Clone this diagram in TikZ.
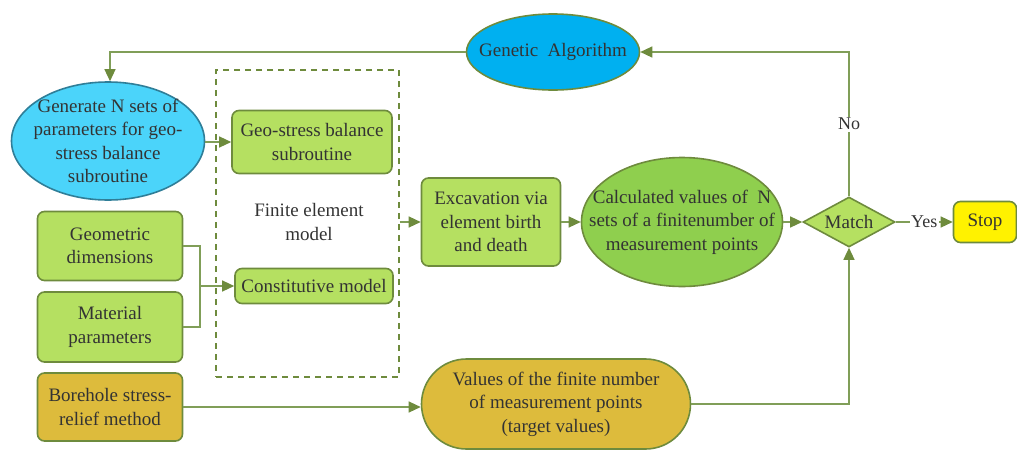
\documentclass[tikz,border=0pt]{standalone}
\usepackage{fontspec}
\setmainfont{Liberation Serif}
\newfontfamily\timesf{Liberation Serif}
\usetikzlibrary{arrows.meta,shapes.geometric}
\definecolor{edge}{HTML}{6E8B3D}
\definecolor{wire}{HTML}{809E58}
\definecolor{gfill}{HTML}{B5E061}
\definecolor{cfill}{HTML}{8FCF4E}
\definecolor{gold}{HTML}{DDBB3C}
\definecolor{gablue}{HTML}{00B0F0}
\definecolor{genblue}{HTML}{4BD4FA}
\definecolor{genedge}{HTML}{2F7E98}
\definecolor{txt}{HTML}{333333}
\tikzset{
  base/.style={draw=edge, line width=1.6pt, text=txt, align=center, inner sep=0pt,
    font=\timesf\fontsize{19}{23.5}\selectfont},
  gbox/.style={base, fill=gfill, rounded corners=7pt},
  goldbox/.style={base, fill=gold, rounded corners=7pt},
  ell/.style={base, ellipse, inner sep=-40pt},
  wireline/.style={draw=wire, line width=1.3pt},
  arr/.style={wireline, -{Triangle[length=12pt,width=11pt,color=edge]}},
  lbl/.style={fill=white, text=txt, inner sep=1.5pt, font=\timesf\fontsize{18}{22}\selectfont}
}
\begin{document}
\begin{tikzpicture}[x=1pt,y=-1pt]
\useasboundingbox (0,0) rectangle (1017,450);

\node[ell, fill=gablue, minimum width=173pt, minimum height=76pt] (ga) at (553,52) {Genetic\ \ Algorithm};
\node[ell, fill=genblue, draw=genedge, minimum width=193pt, minimum height=118pt] (gen) at (108,141)
  {Generate N sets of\\parameters for geo-\\stress balance\\subroutine};

\node[draw=edge, line width=1.8pt, dash pattern=on 6pt off 5pt, minimum width=183pt, minimum height=307pt, inner sep=0pt] (fem) at (307.5,223.5) {};
\node[text=txt, align=center, font=\timesf\fontsize{19}{23.5}\selectfont] (femtxt) at (309,222) {Finite element\\model};

\node[gbox, minimum width=160pt, minimum height=63pt] (geo) at (312,142) {Geo-stress balance\\subroutine};
\node[gbox, minimum width=158pt, minimum height=35pt] (cons) at (314,286) {Constitutive model};

\node[gbox, minimum width=145pt, minimum height=69pt] (geom) at (110,246) {Geometric\\dimensions};
\node[gbox, minimum width=145pt, minimum height=70pt] (mat) at (110,327) {Material\\parameters};
\node[goldbox, minimum width=145pt, minimum height=68pt] (bore) at (110,407) {Borehole stress-\\relief method};

\node[gbox, minimum width=139pt, minimum height=88pt] (exc) at (491,222) {Excavation via\\element birth\\and death};
\node[ell, fill=cfill, minimum width=201pt, minimum height=129pt] (calc) at (682,222)
  {Calculated values of\ \ N\\sets of a finitenumber of\\measurement points};
\node[base, diamond, fill=gfill, aspect=1.84, inner sep=-20pt, minimum width=92pt, minimum height=50pt] (match) at (849,222) {Match};
\node[gbox, fill=yellow, minimum width=63pt, minimum height=41pt] (stop) at (985,222) {Stop};

\node[goldbox, rounded corners=45pt, minimum width=269pt, minimum height=90pt] (vals) at (556,404)
  {Values of the finite number\\of measurement points\\(target values)};

% connectors
\draw[arr] (gen.east |- geo.west) -- (geo.west);
\coordinate (br) at (200,286);
\draw[wireline] (geom.east) -| (br) |- (mat.east);
\draw[arr] (br) -- (cons.west);
\draw[arr] (fem.east |- exc.west) -- (exc.west);
\draw[arr] (exc.east) -- (calc.west);
\draw[arr] (calc.east) -- (match.west);
\draw[arr] (match.east) -- node[lbl] {Yes} (stop.west);
\coordinate (nocorner) at (849,52);
\draw[arr] (match.north) -- node[lbl, pos=0.5] {No} (nocorner) -- (ga.east);
\coordinate (gacorner) at (110,52);
\draw[arr] (ga.west) -- (gacorner) -- (gacorner |- gen.north);
\draw[arr] (bore.east) -- (bore.east -| vals.west);
\draw[arr] (vals.east) -| (match.south);
\end{tikzpicture}
\end{document}
